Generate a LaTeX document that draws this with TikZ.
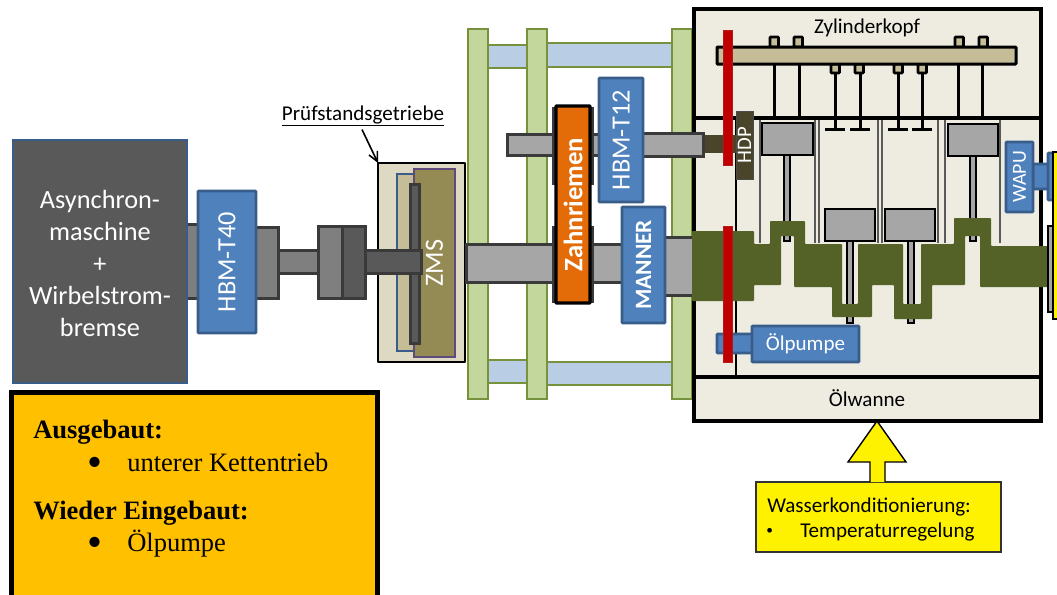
\documentclass[tikz,border=0pt]{standalone}
\usepackage{fontspec}
\setmainfont{Carlito}
\newfontfamily\tmsfont{Liberation Serif}
\usetikzlibrary{arrows.meta}
\definecolor{bluefill}{HTML}{4F81BD}
\definecolor{blueline}{HTML}{385D8A}
\definecolor{darkg}{HTML}{595959}
\definecolor{midg}{HTML}{7F7F7F}
\definecolor{lightg}{HTML}{A6A6A6}
\definecolor{lineg}{HTML}{3A3A3A}
\definecolor{greenfill}{HTML}{C3D69B}
\definecolor{greenline}{HTML}{76923C}
\definecolor{paleblue}{HTML}{B9CDE5}
\definecolor{engine}{HTML}{EEECE1}
\definecolor{tan}{HTML}{C4BD97}
\definecolor{pale}{HTML}{DDD9C3}
\definecolor{olive}{HTML}{948A54}
\definecolor{purp}{HTML}{604A7B}
\definecolor{crank}{HTML}{546228}
\definecolor{hdpc}{HTML}{4A452A}
\definecolor{redbar}{HTML}{C00000}
\definecolor{orangeb}{HTML}{E36C09}
\definecolor{amber}{HTML}{FFC000}
\tikzset{
  px/.style={line width=#1*0.75pt},
  blk/.style={px=2,line join=round,draw=black},
  bluebox/.style={fill=bluefill,draw=blueline,px=2.6,rounded corners=0.6pt,text=white},
  shaftd/.style={fill=darkg,draw=lineg,px=3},
  shaftm/.style={fill=midg,draw=lineg,px=3},
  shaftl/.style={fill=lightg,draw=lineg,px=3},
  greenbar/.style={fill=greenfill,draw=greenline,px=2.6},
  cross/.style={fill=paleblue,draw=greenline,px=2.6},
  enginebox/.style={fill=engine,draw=black,px=3.2},
  capbox/.style={fill=tan,draw=black,px=2.6,rounded corners=0.5pt},
  stem/.style={draw=black,px=3},
  wall/.style={draw=darkg,px=1.8},
  piston/.style={fill=lightg,draw=black,px=2.6},
  rod/.style={fill=lightg,draw=black,px=2},
  redwheel/.style={fill=redbar,draw=redbar!80!gray,px=0.8},
  lab/.style={font=\fontsize{15.8}{19}\selectfont,text=black,inner sep=0pt},
  tms/.style={font=\tmsfont\fontsize{19.9}{24}\selectfont,text=black,inner sep=0pt,anchor=base west},
}
% \bx[style]{x1}{y1}{x2}{y2}: a plain rectangle
\newcommand\bx[5][]{\path[#1] (#2,#3) rectangle (#4,#5);}
% \nd[style]{name}{x1}{y1}{x2}{y2}{text}: a named rectangle node
\newcommand\nd[7][]{%
  \pgfmathsetmacro\wdv{(#5-#3)*0.75}\pgfmathsetmacro\htv{(#6-#4)*0.75}%
  \node[#1,draw,inner sep=0pt,outer sep=0pt,align=center,minimum width=\wdv pt,minimum height=\htv pt] (#2) at ({(#3+#5)/2},{(#4+#6)/2}) {#7};}
\newcommand\rot[2]{\rotatebox{90}{\fontsize{#1}{#1}\selectfont #2}}
\begin{document}
\begin{tikzpicture}[x=0.75pt,y=-0.75pt]
\useasboundingbox (0,0) rectangle (1057,594);
\clip (0,0) rectangle (1057,594);
% frame bars
\bx[cross]{488}{45}{527}{68}
\bx[cross]{547}{43}{672}{67}
\bx[cross]{488}{360}{527}{383}
\bx[cross]{547}{362}{672}{385}
\bx[greenbar]{468}{29}{488}{399}
\bx[greenbar]{527}{29}{547}{399}
\bx[greenbar]{672}{29}{692}{399}
% engine housing
\nd[enginebox]{head}{694}{9}{1041}{118}{}
\nd[enginebox]{block}{694}{118}{1041}{377}{}
\nd[enginebox]{sump}{694}{377}{1041}{421}{}
\draw[black,px=2.6] (736,118) -- (736,377);
\node[lab,anchor=base] (headlab) at (867,33) {Zylinderkopf};
\node[lab,anchor=base] (sumplab) at (867,406) {Ölwanne};
% drive train left
\bx[shaftm]{185}{224}{199}{298}
\bx[shaftm]{254}{227}{278}{298}
\bx[shaftm]{278}{250}{318}{273}
\bx[shaftm]{318}{226}{342}{298}
\bx[shaftd]{342}{226}{365}{298}
\nd[fill=darkg,draw=blueline,px=2]{asm}{13}{140}{187}{383}{}
\node[text=white,inner sep=0pt,align=center,font=\fontsize{19.7}{24}\selectfont] (asmlab) at (100,263) {Asynchron-\\maschine\\+\\Wirbelstrom-\\bremse};
\nd[bluebox]{tforty}{198}{191}{256}{333}{\rot{19.7}{HBM-T40}}
% Pruefstandsgetriebe
\nd[fill=pale,blk,px=2.8]{gear}{378}{163}{465}{362}{}
\bx[fill=tan,draw=blueline,px=2.2]{397}{174}{430}{351}
\nd[fill=olive,draw=purp,px=2.2,text=white]{zms}{414}{169}{455}{357}{\rot{19.7}{ZMS}}
\bx[shaftd]{410}{184}{419}{343}
\bx[shaftd]{365}{250}{421}{273}
\node[lab,anchor=base] (pruef) at (363,120) {\underline{Prüfstandsgetriebe}};
\draw[black,px=1.6,-{Straight Barb[length=7pt,width=7pt]}] (pruef.south) ++(-1,3) -- (gear.north west);
% upper shaft
\bx[shaftl]{507}{134}{601}{155}
\bx[fill=hdpc,draw=none]{703}{135}{737}{153}
\bx[shaftl]{640}{133}{703}{156}
% lower shaft
\bx[shaftl]{466}{244}{623}{282}
\bx[shaftl]{662}{237}{693}{295}
% belt
\bx[shaftd]{553}{108}{592}{183}
\bx[shaftd]{553}{227}{592}{301}
\nd[fill=orangeb,draw=black,px=3.2,rounded corners=0.5pt,text=white]{belt}{556}{106}{590}{303}{\rot{20}{\textbf{Zahnriemen}}}
\nd[bluebox]{ttwelve}{599}{78}{643}{202}{\rot{19.7}{HBM-T12}}
\nd[bluebox]{manner}{622}{207}{665}{323}{\rot{17.5}{\textbf{MANNER}}}
% cylinder walls
\foreach \x in {760,815,819,878,882,938,945,1000} {\draw[wall] (\x,120) -- (\x,243);}
% camshaft
\foreach \x in {770,794,955,979} {\bx[capbox]{\x}{37}{\x+8.5}{47}}
\foreach \x in {831,855,894,918} {\bx[capbox]{\x}{64}{\x+8.5}{73}}
\foreach \x in {774,799,958,982} {\draw[stem] (\x,64) -- (\x,118);}
\foreach \x in {835,860,898,922} {\draw[stem] (\x,73) -- (\x,129); \draw[stem] (\x-10,129) -- (\x+10,129);}
\bx[fill=tan,draw=black,px=3,rounded corners=0.5pt]{717}{47}{1016}{64}
% pistons and rods
\bx[rod]{784}{155}{790}{241}
\bx[rod]{970}{156}{976}{241}
\bx[rod]{847}{241}{853}{323}
\bx[rod]{908}{241}{914}{323}
\bx[piston]{762}{123}{813}{155}
\bx[piston]{948}{124}{998}{156}
\bx[piston]{825}{209}{875}{241}
\bx[piston]{885}{209}{935}{241}
% crankshaft
\fill[crank,line join=round,rounded corners=0.6pt]
  (692,231) -- (754,231) -- (754,244) -- (770,244) -- (770,221) -- (805,221) -- (805,244)
  -- (842,244) -- (842,304) -- (858,304) -- (858,244) -- (903,244) -- (903,304) -- (921,304)
  -- (921,244) -- (954,244) -- (954,218) -- (991,218) -- (991,246) -- (1050,246) -- (1050,287)
  -- (980,287) -- (980,236) -- (965,236) -- (965,285) -- (932,285) -- (932,319) -- (894,319)
  -- (894,285) -- (872,285) -- (872,317) -- (832,317) -- (832,287) -- (794,287) -- (794,236)
  -- (781,236) -- (781,285) -- (754,285) -- (754,301) -- (692,301) -- cycle;
% right side
\bx[bluebox]{1033}{164}{1050}{189}
\bx[bluebox]{1048}{153}{1060}{200}
\nd[bluebox]{wapu}{1006}{142}{1033}{212}{\rot{15}{WAPU}}
\bx[fill=lightg,draw=black,px=2.4]{1048}{226}{1054}{312}
\bx[fill=yellow,draw=black,px=2.4]{1053}{152}{1064}{319}
% oil pump
\bx[bluebox]{717}{334}{753}{353}
\nd[bluebox,font=\fontsize{15.8}{19}\selectfont]{oil}{752}{326}{859}{362}{Ölpumpe}
% HDP and red wheels
\nd[fill=hdpc,draw=black!70,px=1,text=white]{hdp}{736}{111}{753}{179}{\rot{15.5}{HDP}}
\bx[redwheel]{723}{30}{732}{165}
\bx[redwheel]{723}{226}{732}{362}
% water conditioning
\nd[fill=yellow,draw=black!80,px=1.4]{water}{756}{482}{1001}{552}{}
\filldraw[fill=yellow,draw=black,px=1.4,line join=miter] (870,482) -- (870,462) -- (848,462) -- (877,421) -- (906,462) -- (885,462) -- (885,482);
\node[lab,anchor=base west] (w1) at (767,512) {Wasserkonditionierung:};
\node[lab,anchor=base west,font=\fontsize{10}{12}\selectfont] (w2) at (766,534) {•};
\node[lab,anchor=base west] (w3) at (800,537) {Temperaturregelung};
% note box
\nd[fill=amber,draw=black,px=5]{note}{11}{392}{377}{600}{}
\node[tms] (n1) at (33,438) {\textbf{Ausgebaut:}};
\node[tms,font=\tmsfont\fontsize{32}{36}\selectfont] (n2) at (87.5,476) {•};
\node[tms] (n3) at (127,471) {unterer Kettentrieb};
\node[tms] (n4) at (33,519) {\textbf{Wieder Eingebaut:}};
\node[tms,font=\tmsfont\fontsize{32}{36}\selectfont] (n5) at (87.5,556) {•};
\node[tms] (n6) at (127,551) {Ölpumpe};
\end{tikzpicture}
\end{document}
